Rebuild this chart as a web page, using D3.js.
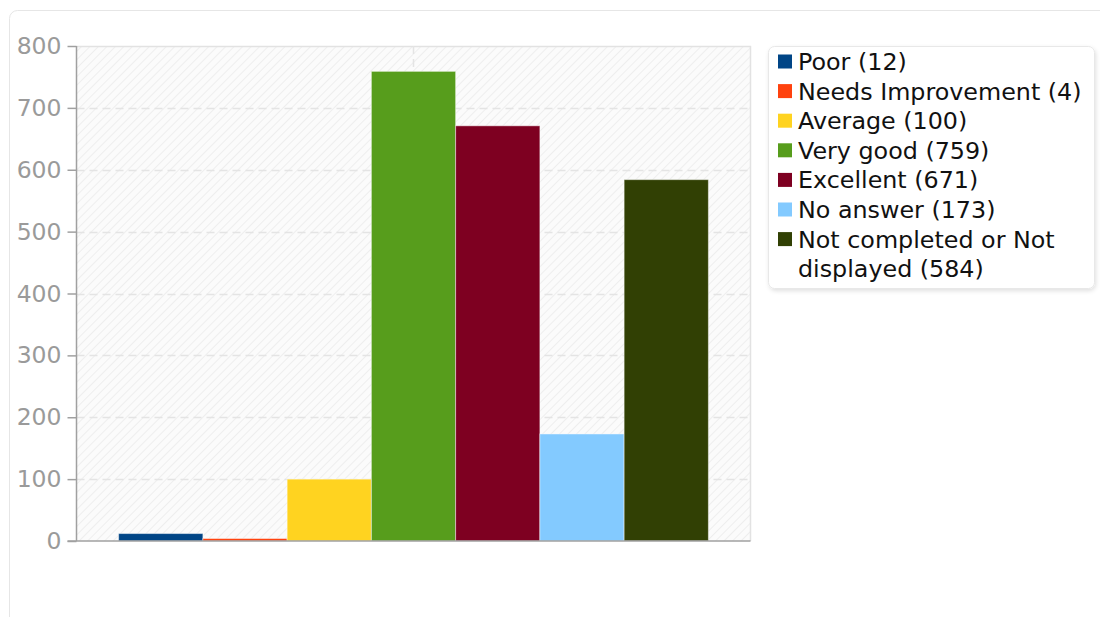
<!DOCTYPE html>
<html>
<head>
<meta charset="utf-8">
<script src="https://cdn.jsdelivr.net/npm/d3@7"></script>
<style>
  html, body { margin: 0; padding: 0; background: #fff; }
  svg { display: block; font-family: "DejaVu Sans", sans-serif; }
</style>
</head>
<body>
<svg id="chart" width="1100" height="617"></svg>
<script>
const categories = ["Poor", "Needs Improvement", "Average", "Very good", "Excellent", "No answer", "Not completed or Not displayed"];
const values = [12, 4, 100, 759, 671, 173, 584];
const colors = ["#004586", "#ff420e", "#ffd320", "#579d1c", "#7e0021", "#83caff", "#314004"];
const yTicks = [0, 100, 200, 300, 400, 500, 600, 700, 800];
const legendLines = [
  ["Poor (12)"],
  ["Needs Improvement (4)"],
  ["Average (100)"],
  ["Very good (759)"],
  ["Excellent (671)"],
  ["No answer (173)"],
  ["Not completed or Not", "displayed (584)"]
];

const svg = d3.select("#chart");
const plot = { left: 76.5, right: 750.5, top: 46, bottom: 541 };

// outer card
svg.append("rect")
  .attr("x", 9.5).attr("y", 10.5)
  .attr("width", 1120).attr("height", 700)
  .attr("rx", 8)
  .attr("fill", "#fff")
  .attr("stroke", "#e6e6e6");

// hatch pattern
const defs = svg.append("defs");
const pat = defs.append("pattern")
  .attr("id", "hatch")
  .attr("patternUnits", "userSpaceOnUse")
  .attr("width", 6).attr("height", 6)
  .attr("patternTransform", "rotate(45)");
pat.append("rect").attr("width", 6).attr("height", 6).attr("fill", "#fbfbfb");
pat.append("line").attr("x1", 0).attr("y1", 0).attr("x2", 0).attr("y2", 6)
  .attr("stroke", "#eeeeee").attr("stroke-width", 2);

const filt = defs.append("filter").attr("id", "shadow")
  .attr("x", "-10%").attr("y", "-10%").attr("width", "130%").attr("height", "130%");
filt.append("feDropShadow").attr("dx", 1).attr("dy", 2).attr("stdDeviation", 2)
  .attr("flood-color", "#000").attr("flood-opacity", 0.12);

const x = d3.scaleBand()
  .domain(categories)
  .range([plot.left, plot.right])
  .paddingInner(0)
  .paddingOuter(0.5);

const y = d3.scaleLinear().domain([0, 800]).range([plot.bottom, plot.top]);

// plot background
svg.append("rect")
  .attr("x", plot.left).attr("y", plot.top)
  .attr("width", plot.right - plot.left).attr("height", plot.bottom - plot.top)
  .attr("fill", "url(#hatch)");

// frame top/right
svg.append("path")
  .attr("d", `M${plot.left},${plot.top + 0.5}H${plot.right}V${plot.bottom}`)
  .attr("fill", "none").attr("stroke", "#e2e2e2").attr("stroke-width", 1.5);

// horizontal grid
svg.append("g").selectAll("line")
  .data(yTicks.filter(d => d > 0 && d < 800))
  .join("line")
  .attr("x1", plot.left).attr("x2", plot.right)
  .attr("y1", d => Math.round(y(d)) + 0.5).attr("y2", d => Math.round(y(d)) + 0.5)
  .attr("stroke", "#e4e4e4").attr("stroke-width", 1.5)
  .attr("stroke-dasharray", "8,5");

// vertical center grid
const cx = (x(categories[0]) + x(categories[categories.length - 1]) + x.bandwidth()) / 2;
svg.append("line")
  .attr("x1", cx).attr("x2", cx)
  .attr("y1", plot.top).attr("y2", plot.bottom)
  .attr("stroke", "#e4e4e4").attr("stroke-width", 1.5)
  .attr("stroke-dasharray", "8,5");

// bars
svg.append("g").selectAll("rect")
  .data(values)
  .join("rect")
  .attr("x", (d, i) => x(categories[i]))
  .attr("y", d => y(d))
  .attr("width", x.bandwidth())
  .attr("height", d => y(0) - y(d))
  .attr("fill", (d, i) => colors[i])
  .attr("stroke", "rgba(255,255,255,0.45)")
  .attr("stroke-width", 1);

// y axis
const yAxis = d3.axisLeft(y).tickValues(yTicks).tickSize(9).tickPadding(6).tickFormat(d3.format("d"));
const gy = svg.append("g").attr("transform", `translate(${plot.left},0)`).call(yAxis);
gy.select(".domain").attr("stroke", "#a0a0a0").attr("stroke-width", 1.5).attr("d", `M0,${plot.top}V${plot.bottom}`);
gy.selectAll(".tick line").attr("stroke", "#a0a0a0").attr("stroke-width", 1.5);
gy.selectAll(".tick text")
  .attr("fill", "#9a9a9a")
  .style("font-size", "23.5px")
  .style("font-family", "DejaVu Sans, sans-serif");

// bottom axis line
svg.append("line")
  .attr("x1", plot.left - 9).attr("x2", plot.right)
  .attr("y1", plot.bottom).attr("y2", plot.bottom)
  .attr("stroke", "#a0a0a0").attr("stroke-width", 1.5);

// legend
const lg = svg.append("g");
lg.append("rect")
  .attr("x", 768.5).attr("y", 46.5)
  .attr("width", 326).attr("height", 242)
  .attr("rx", 6)
  .attr("fill", "#fff")
  .attr("stroke", "#e8e8e8")
  .attr("filter", "url(#shadow)");

const lineH = 29.6;
let row = 0;
legendLines.forEach((lines, i) => {
  const cy = 61.5 + row * lineH;
  lg.append("rect")
    .attr("x", 778).attr("y", cy - 7)
    .attr("width", 14).attr("height", 14)
    .attr("fill", colors[i]);
  lines.forEach((t, j) => {
    lg.append("text")
      .attr("x", 798).attr("y", cy + j * lineH)
      .attr("dy", "0.36em")
      .attr("fill", "#111")
      .style("font-size", "23.8px")
      .text(t);
  });
  row += lines.length;
});
</script>
</body>
</html>
